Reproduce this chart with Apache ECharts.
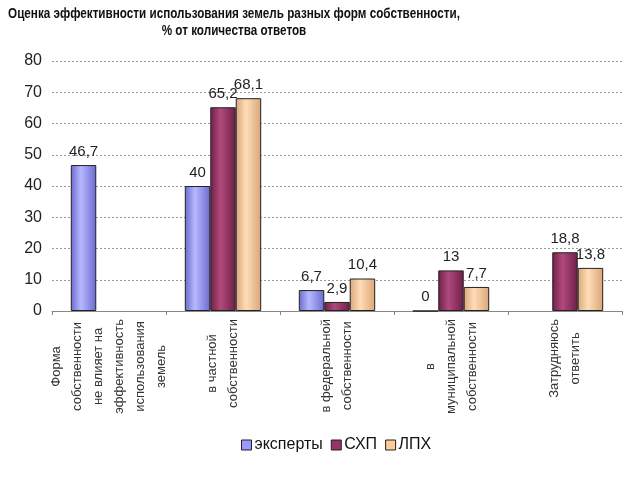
<!DOCTYPE html>
<html>
<head>
<meta charset="utf-8">
<script src="https://cdn.jsdelivr.net/npm/echarts@6/dist/echarts.min.js"></script>
<style>html,body{margin:0;padding:0;background:#fff}#c{width:640px;height:480px}</style>
</head>
<body>
<div id="c"></div>
<script>
var titleLines = ['Оценка эффективности использования земель разных форм собственности,', '% от количества ответов'];
var categories = [
  'Форма\nсобственности\nне влияет на\nэффективность\nиспользования\nземель',
  'в частной\nсобственности',
  'в федеральной\nсобственности',
  'в\nмуниципальной\nсобственности',
  'Затрудняюсь\nответить'
];
var seriesNames = ['эксперты', 'СХП', 'ЛПХ'];
var experts = [46.7, 40, 6.7, 0, null];
var shp = [null, 65.2, 2.9, 13, 18.8];
var lph = [null, 68.1, 10.4, 7.7, 13.8];
var yTicks = [0, 10, 20, 30, 40, 50, 60, 70, 80];

var baseColors = ['#9999ff', '#993366', '#ffcc99'];
var darkColors = ['#6a6ad0', '#6e1f47', '#d9a677'];
var lightColors = ['#b8b8ff', '#b04a7c', '#ffdcb8'];
var FONT = 'Liberation Sans, Arial, sans-serif';

function grad(i) {
  return new echarts.graphic.LinearGradient(0, 0, 1, 0, [
    {offset: 0, color: darkColors[i]},
    {offset: 0.4, color: lightColors[i]},
    {offset: 1, color: darkColors[i]}
  ]);
}

function mkSeries(i, data) {
  return {
    name: seriesNames[i],
    type: 'bar',
    data: data,
    barGap: '0%',
    barCategoryGap: '33%',
    itemStyle: {color: grad(i), borderColor: '#222', borderWidth: 1},
    label: {
      show: true,
      position: 'top',
      distance: 6,
      fontFamily: FONT,
      fontSize: 15,
      color: '#222',
      formatter: function (p) { return String(p.value).replace('.', ','); }
    }
  };
}

var chart = echarts.init(document.getElementById('c'));
chart.setOption({
  animation: false,
  backgroundColor: '#fff',
  graphic: titleLines.map(function (t, i) {
    return {
      type: 'text',
      x: 234,
      y: 7 + i * 17,
      scaleX: 0.835,
      style: {
        text: t,
        textAlign: 'center',
        textVerticalAlign: 'top',
        font: 'bold 14px "Liberation Sans", Arial, sans-serif',
        fill: '#111'
      }
    };
  }),
  legend: {
    data: seriesNames.map(function (n, i) {
      return {name: n, itemStyle: {color: baseColors[i], borderColor: '#222', borderWidth: 1}};
    }),
    left: 236,
    top: 432,
    icon: 'rect',
    itemWidth: 10,
    itemHeight: 10,
    itemGap: 8,
    textStyle: {fontFamily: FONT, fontSize: 16, color: '#111', padding: [0, 0, 0, -2]}
  },
  grid: {left: 52, right: 18, top: 61, bottom: 169, containLabel: false},
  xAxis: {
    type: 'category',
    data: categories,
    axisLine: {lineStyle: {color: '#888', width: 1}},
    axisTick: {show: true, alignWithLabel: false, length: 4, lineStyle: {color: '#888'}},
    axisLabel: {
      interval: 0,
      rotate: 90,
      margin: 8,
      color: '#333',
      fontFamily: FONT,
      fontSize: 13,
      lineHeight: 21,
      formatter: function (v) {
        return v.split('\n').map(function (s) { return '{c|' + s + '}'; }).join('\n');
      },
      rich: {
        c: {align: 'center', fontSize: 13, lineHeight: 21, color: '#333', fontFamily: FONT}
      }
    }
  },
  yAxis: {
    type: 'value',
    min: 0,
    max: 80,
    interval: 10,
    axisLine: {show: false},
    axisTick: {show: false},
    axisLabel: {
      margin: 10,
      color: '#222',
      fontFamily: FONT,
      fontSize: 16,
      formatter: function (v) { return yTicks.indexOf(v) >= 0 ? String(v) : ''; }
    },
    splitLine: {lineStyle: {color: '#999', type: [2, 2], width: 1}}
  },
  series: [mkSeries(0, experts), mkSeries(1, shp), mkSeries(2, lph)]
});
</script>
</body>
</html>
